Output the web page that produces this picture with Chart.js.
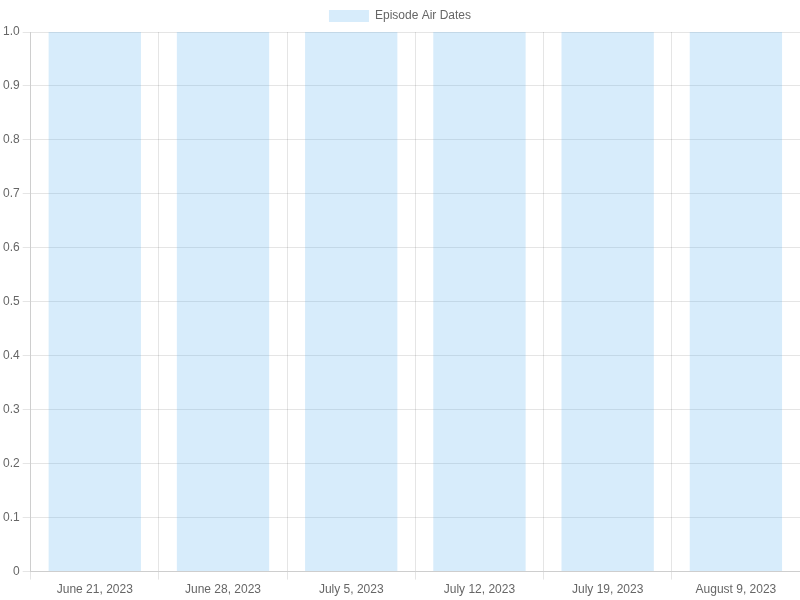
<!DOCTYPE html>
<html>
<head>
<meta charset="utf-8">
<script src="https://cdn.jsdelivr.net/npm/chart.js@4"></script>
<style>
    html, body { margin: 0; padding: 0; background: #fff; }
    #wrap { width: 800px; height: 600px; }
</style>
</head>
<body>
<div id="wrap"><canvas id="airDatesChart"></canvas></div>
<script>
const airDates = ['June 21, 2023', 'June 28, 2023', 'July 5, 2023', 'July 12, 2023', 'July 19, 2023', 'August 9, 2023'];
const episodeMarks = [1, 1, 1, 1, 1, 1];
const seriesLabel = 'Episode Air Dates';

const ctx = document.getElementById('airDatesChart');
new Chart(ctx, {
    type: 'bar',
    data: {
        labels: airDates,
        datasets: [{
            label: seriesLabel,
            data: episodeMarks,
            backgroundColor: 'rgba(54, 162, 235, 0.2)',
            borderWidth: 0
        }]
    },
    options: {
        responsive: true,
        maintainAspectRatio: false,
        animation: false,
        scales: {
            y: {
                beginAtZero: true,
                max: 1,
                ticks: { stepSize: 0.1 }
            }
        }
    }
});
</script>
</body>
</html>
